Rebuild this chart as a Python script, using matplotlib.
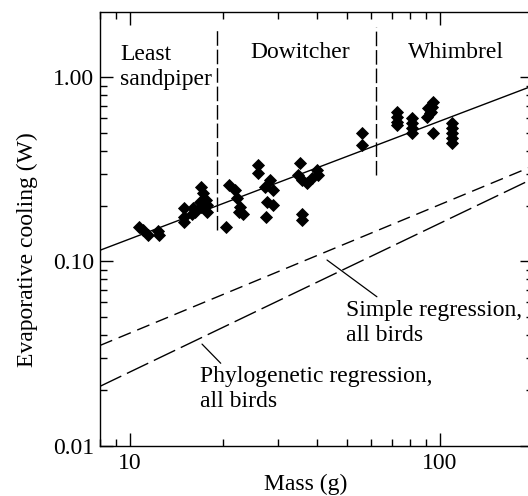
import matplotlib
matplotlib.use("Agg")
import matplotlib.pyplot as plt
from matplotlib.ticker import FixedLocator, NullFormatter

plt.rcParams['font.family'] = ['Liberation Serif', 'DejaVu Serif']
plt.rcParams['lines.scale_dashes'] = False

# ---- data ----
sandpiper_mass = [10.7, 11.0, 11.4, 12.3, 12.4, 14.9, 14.9, 14.9, 16.0, 16.2, 15.8,
                  17.0, 17.2, 17.6, 17.7, 17.7, 17.0, 16.8]
sandpiper_w = [0.154, 0.148, 0.140, 0.146, 0.140, 0.194, 0.175, 0.164, 0.194, 0.186, 0.182,
               0.254, 0.234, 0.215, 0.202, 0.186, 0.198, 0.211]

dowitcher_mass = [20.9, 21.8, 22.1, 22.6, 22.4, 23.1, 20.4,
                  25.9, 25.9, 27.3, 28.3, 28.9, 27.6, 29.0, 27.5,
                  35.4, 34.9, 35.8, 37.2, 38.6, 40.0, 40.5, 35.8, 35.8,
                  56.2, 56.2]
dowitcher_w = [0.260, 0.244, 0.220, 0.198, 0.186, 0.182, 0.154,
               0.334, 0.301, 0.254, 0.277, 0.244, 0.211, 0.202, 0.175,
               0.343, 0.294, 0.277, 0.265, 0.282, 0.313, 0.294, 0.182, 0.168,
               0.496, 0.428]

whimbrel_mass = [72.5, 72.5, 72.5, 72.5, 81.0, 81.0, 81.0, 81.0,
                 95.1, 94.0, 91.7, 92.8, 90.6, 93.5, 94.9,
                 109.1, 109.1, 109.1, 109.1, 109.1]
whimbrel_w = [0.649, 0.610, 0.573, 0.550, 0.600, 0.564, 0.530, 0.498,
              0.735, 0.691, 0.677, 0.636, 0.610, 0.649, 0.499,
              0.564, 0.530, 0.498, 0.468, 0.439]

fit_mass = [8, 200]
fit_w = [0.115, 0.90]
simple_mass = [8, 200]
simple_w = [0.035, 0.33]
phylo_mass = [8, 200]
phylo_w = [0.021, 0.282]

divider_mass = [19.1, 62.2]
divider_low = [0.148, 0.294]
divider_high = [1.85, 1.88]

region_labels = ["Least\nsandpiper", "Dowitcher", "Whimbrel"]
region_mass = [9.29, 24.4, 78.8]
region_w = [1.134, 1.368, 1.368]

ytick_vals = [0.01, 0.1, 1.0]
ytick_labels = ["0.01", "0.10", "1.00"]
xtick_vals = [10, 100]
xtick_labels = ["10", "100"]

# ---- figure ----
W_PX, H_PX = 528, 496
fig = plt.figure(figsize=(W_PX / 100, H_PX / 100), dpi=100)
ax = fig.add_axes([100 / W_PX, (H_PX - 445.7) / H_PX, 433.3 / W_PX, 433.4 / H_PX])
ax.set_xscale('log')
ax.set_yscale('log')
ax.set_xlim(8, 200)
ax.set_ylim(0.01, 2.25)

FS = 17
LS = 1.25
mk = dict(marker='D', ms=5.7, color='black', mec='black', mew=0.6, linestyle='none', zorder=3)
ax.plot(sandpiper_mass, sandpiper_w, **mk)
ax.plot(dowitcher_mass, dowitcher_w, **mk)
ax.plot(whimbrel_mass, whimbrel_w, **mk)

ax.plot(fit_mass, fit_w, color='black', lw=1.0, solid_capstyle='butt')
ax.plot(simple_mass, simple_w, color='black', lw=1.0, linestyle=(0, (9.5, 5.0)))
ax.plot(phylo_mass, phylo_w, color='black', lw=1.0, linestyle=(0, (17, 4.5)))

for m, lo, hi in zip(divider_mass, divider_low, divider_high):
    ax.plot([m, m], [lo, hi], color='black', lw=1.0, linestyle=(0, (10.5, 2.8)))

for lab, m, w in zip(region_labels, region_mass, region_w):
    ax.text(m, w, lab, ha='left', va='center', fontsize=FS, linespacing=LS)

# annotations
ax.annotate("Simple regression,\nall birds", xy=(43.2, 0.1018), xytext=(49.75, 0.0466),
            ha='left', va='center', fontsize=FS, linespacing=LS,
            arrowprops=dict(arrowstyle='-', color='black', lw=0.9,
                            shrinkA=0, shrinkB=0, relpos=(0.25, 0.85)))
ax.annotate("Phylogenetic regression,\nall birds", xy=(17.07, 0.0356), xytext=(16.82, 0.0203),
            ha='left', va='center', fontsize=FS, linespacing=LS,
            arrowprops=dict(arrowstyle='-', color='black', lw=0.9,
                            shrinkA=0, shrinkB=0, relpos=(0.12, 0.9)))

# ticks
ax.xaxis.set_major_locator(FixedLocator(xtick_vals))
ax.set_xticklabels(xtick_labels)
ax.xaxis.set_minor_locator(FixedLocator([8, 9] + [20, 30, 40, 50, 60, 70, 80, 90]))
ax.xaxis.set_minor_formatter(NullFormatter())
ax.yaxis.set_major_locator(FixedLocator(ytick_vals))
ax.set_yticklabels(ytick_labels)
ax.yaxis.set_minor_locator(FixedLocator([i * 0.01 for i in range(2, 10)] + [i * 0.1 for i in range(2, 10)]))
ax.yaxis.set_minor_formatter(NullFormatter())
ax.tick_params(which='both', direction='in', top=True, right=True, width=1.0, labelsize=FS)
ax.tick_params(which='major', length=9.5)
ax.tick_params(which='minor', length=5.2)
ax.tick_params(axis='x', pad=5)
ax.tick_params(axis='y', pad=4)
for s in ax.spines.values():
    s.set_linewidth(1.0)

fig.text(306 / W_PX, 1 - 490 / H_PX, "Mass (g)", ha='center', va='baseline', fontsize=FS)
fig.text(27 / W_PX, 1 - 250 / H_PX, "Evaporative cooling (W)", ha='center', va='center',
         rotation=90, fontsize=FS)

fig.savefig("out.png", dpi=100)
